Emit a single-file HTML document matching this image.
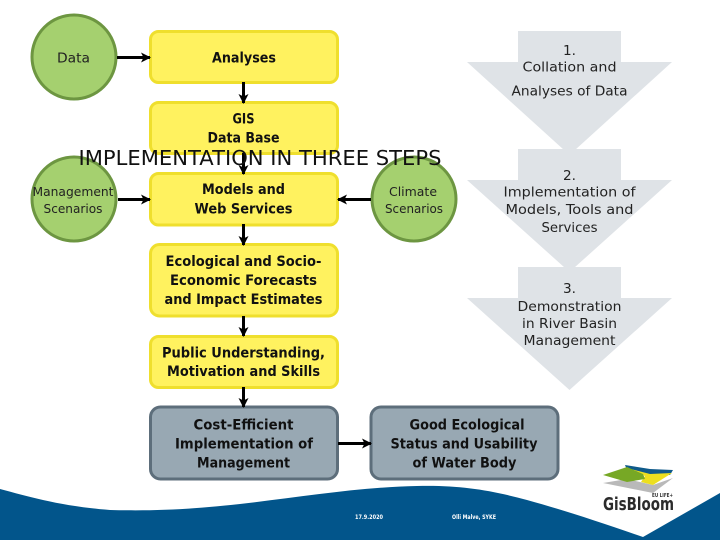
<!DOCTYPE html>
<html><head><meta charset="utf-8"><style>
html,body{margin:0;padding:0;background:#fff;width:720px;height:540px;overflow:hidden}
svg{display:block}
text{font-family:"DejaVu Sans","Liberation Sans",sans-serif;fill:#111;text-anchor:middle}
.b{font-size:14px;font-weight:700;fill:#111;stroke:none}
.r{font-size:13.5px;fill:#222}
.s{font-size:12.5px;fill:#222}
</style></head><body>
<svg width="720" height="540" viewBox="0 0 720 540" xmlns="http://www.w3.org/2000/svg">
<defs>
<marker id="a" markerWidth="12" markerHeight="12" refX="9" refY="5" orient="auto" markerUnits="userSpaceOnUse"><path d="M0 0L10 5L0 10L2.5 5Z" fill="#000"/></marker>
</defs>
<rect width="720" height="540" fill="#fff"/>
<path d="M0 489C30 497 60 506 110 510C150 511 185 510 240 504C300 497 360 487 417 486C460 485 490 490 527 500C560 509 600 522 643 537L720 493V540H0Z" fill="#02558b"/>

<g fill="#dfe3e7">
<path d="M518 31H621V62H672L569.5 155L467 62H518Z"/>
<path d="M518 149H621V180H672L569.5 272L467 180H518Z"/>
<path d="M518 267H621V298H672L569.5 390L467 298H518Z"/>
</g>

<g fill="#a5d06f" stroke="#6d9641" stroke-width="3">
<circle cx="74" cy="57" r="42"/>
<circle cx="74" cy="199" r="42"/>
<circle cx="414" cy="199" r="42"/>
</g>

<g fill="#fff25f" stroke="#efdf2d" stroke-width="3">
<rect x="150.500" y="31.500" width="187" height="51" rx="8"/>
<rect x="150.500" y="102.500" width="187" height="51" rx="8"/>
<rect x="150.500" y="173.500" width="187" height="51.500" rx="8"/>
<rect x="150.500" y="244.500" width="187" height="71.500" rx="9"/>
<rect x="150.500" y="336.500" width="187" height="51" rx="8"/>
</g>
<g fill="#98a8b3" stroke="#5d6e7b" stroke-width="3">
<rect x="150.500" y="407" width="187" height="72" rx="10"/>
<rect x="371" y="407" width="187" height="72" rx="10"/>
</g>

<g stroke="#000" stroke-width="3" fill="none" marker-end="url(#a)">
<path d="M117 57.500H150"/>
<path d="M118 199.500H150"/>
<path d="M371 199.500H338"/>
<path d="M338 443.500H371"/>
<path d="M243.500 82V103"/>
<path d="M243.500 153V174"/>
<path d="M243.500 224V245"/>
<path d="M243.500 316V336"/>
<path d="M243.500 387V407"/>
</g>

<text class="r" x="73.500" y="62.500" textLength="33" lengthAdjust="spacingAndGlyphs">Data</text>
<text class="b" x="244" y="62.500" textLength="64" lengthAdjust="spacingAndGlyphs">Analyses</text>
<text class="b" x="243.500" y="123.500" textLength="22" lengthAdjust="spacingAndGlyphs">GIS</text>
<text class="b" x="243.500" y="142.500" textLength="72" lengthAdjust="spacingAndGlyphs">Data Base</text>

<text x="260" y="165" style="font-size:20px;fill:#111" textLength="363" lengthAdjust="spacingAndGlyphs">IMPLEMENTATION IN THREE STEPS</text>

<text class="s" x="73" y="196" textLength="81" lengthAdjust="spacingAndGlyphs">Management</text>
<text class="s" x="73" y="213" textLength="59" lengthAdjust="spacingAndGlyphs">Scenarios</text>
<text class="s" x="413" y="196" textLength="48" lengthAdjust="spacingAndGlyphs">Climate</text>
<text class="s" x="414" y="213" textLength="58" lengthAdjust="spacingAndGlyphs">Scenarios</text>

<text class="b" x="243.500" y="194" textLength="83" lengthAdjust="spacingAndGlyphs">Models and</text>
<text class="b" x="243.500" y="213.500" textLength="98" lengthAdjust="spacingAndGlyphs">Web Services</text>

<text class="b" x="243.500" y="266" textLength="156" lengthAdjust="spacingAndGlyphs">Ecological and Socio-</text>
<text class="b" x="243.500" y="285" textLength="147" lengthAdjust="spacingAndGlyphs">Economic Forecasts</text>
<text class="b" x="243.500" y="304" textLength="158" lengthAdjust="spacingAndGlyphs">and Impact Estimates</text>

<text class="b" x="243.500" y="357.500" textLength="163" lengthAdjust="spacingAndGlyphs">Public Understanding,</text>
<text class="b" x="243.500" y="376" textLength="153" lengthAdjust="spacingAndGlyphs">Motivation and Skills</text>

<text class="b" x="243.500" y="429.500" textLength="100" lengthAdjust="spacingAndGlyphs">Cost-Efficient</text>
<text class="b" x="244" y="448.500" textLength="138" lengthAdjust="spacingAndGlyphs">Implementation of</text>
<text class="b" x="243.500" y="467.500" textLength="93" lengthAdjust="spacingAndGlyphs">Management</text>

<text class="b" x="467" y="429.500" textLength="115" lengthAdjust="spacingAndGlyphs">Good Ecological</text>
<text class="b" x="464" y="448.500" textLength="147" lengthAdjust="spacingAndGlyphs">Status and Usability</text>
<text class="b" x="464.500" y="467.500" textLength="104" lengthAdjust="spacingAndGlyphs">of Water Body</text>

<text class="r" x="569.500" y="55" textLength="13" lengthAdjust="spacingAndGlyphs">1.</text>
<text class="r" x="569.500" y="71.500" textLength="94" lengthAdjust="spacingAndGlyphs">Collation and</text>
<text class="r" x="569.500" y="95.500" textLength="116" lengthAdjust="spacingAndGlyphs">Analyses of Data</text>

<text class="r" x="569.500" y="180" textLength="13" lengthAdjust="spacingAndGlyphs">2.</text>
<text class="r" x="569.500" y="196.500" textLength="132" lengthAdjust="spacingAndGlyphs">Implementation of</text>
<text class="r" x="569.500" y="214" textLength="128" lengthAdjust="spacingAndGlyphs">Models, Tools and</text>
<text class="r" x="569.500" y="232" textLength="56" lengthAdjust="spacingAndGlyphs">Services</text>

<text class="r" x="569.500" y="293" textLength="13" lengthAdjust="spacingAndGlyphs">3.</text>
<text class="r" x="569.500" y="311" textLength="104" lengthAdjust="spacingAndGlyphs">Demonstration</text>
<text class="r" x="569.500" y="328" textLength="95" lengthAdjust="spacingAndGlyphs">in River Basin</text>
<text class="r" x="569.500" y="345" textLength="92" lengthAdjust="spacingAndGlyphs">Management</text>

<text x="369" y="519" style="font-size:6px;fill:#fff;font-weight:700" textLength="28" lengthAdjust="spacingAndGlyphs">17.9.2020</text>
<text x="474" y="519" style="font-size:6px;fill:#fff;font-weight:700" textLength="44" lengthAdjust="spacingAndGlyphs">Olli Malve, SYKE</text>

<path d="M603 483L627 479L653 485L673 478L653 493Z" fill="#b9b9b9"/>
<path d="M625 465L650 469L673 470L670 475L650 475L627 470Z" fill="#0f5a8a"/>
<path d="M627 468L650 474L672 473L653 485L641 482L645 476Z" fill="#ecdf1f"/>
<path d="M603 475L627 467L643 474L645 479L627 482Z" fill="#77a825"/>
<text x="638.500" y="510" style="font-size:17.500px;font-weight:700;fill:#2b2b2b" textLength="71" lengthAdjust="spacingAndGlyphs">GisBloom</text>
<text x="662.500" y="497" style="font-size:5.500px;font-weight:700;fill:#333" textLength="21" lengthAdjust="spacingAndGlyphs">EU LIFE+</text>
</svg>
</body></html>
